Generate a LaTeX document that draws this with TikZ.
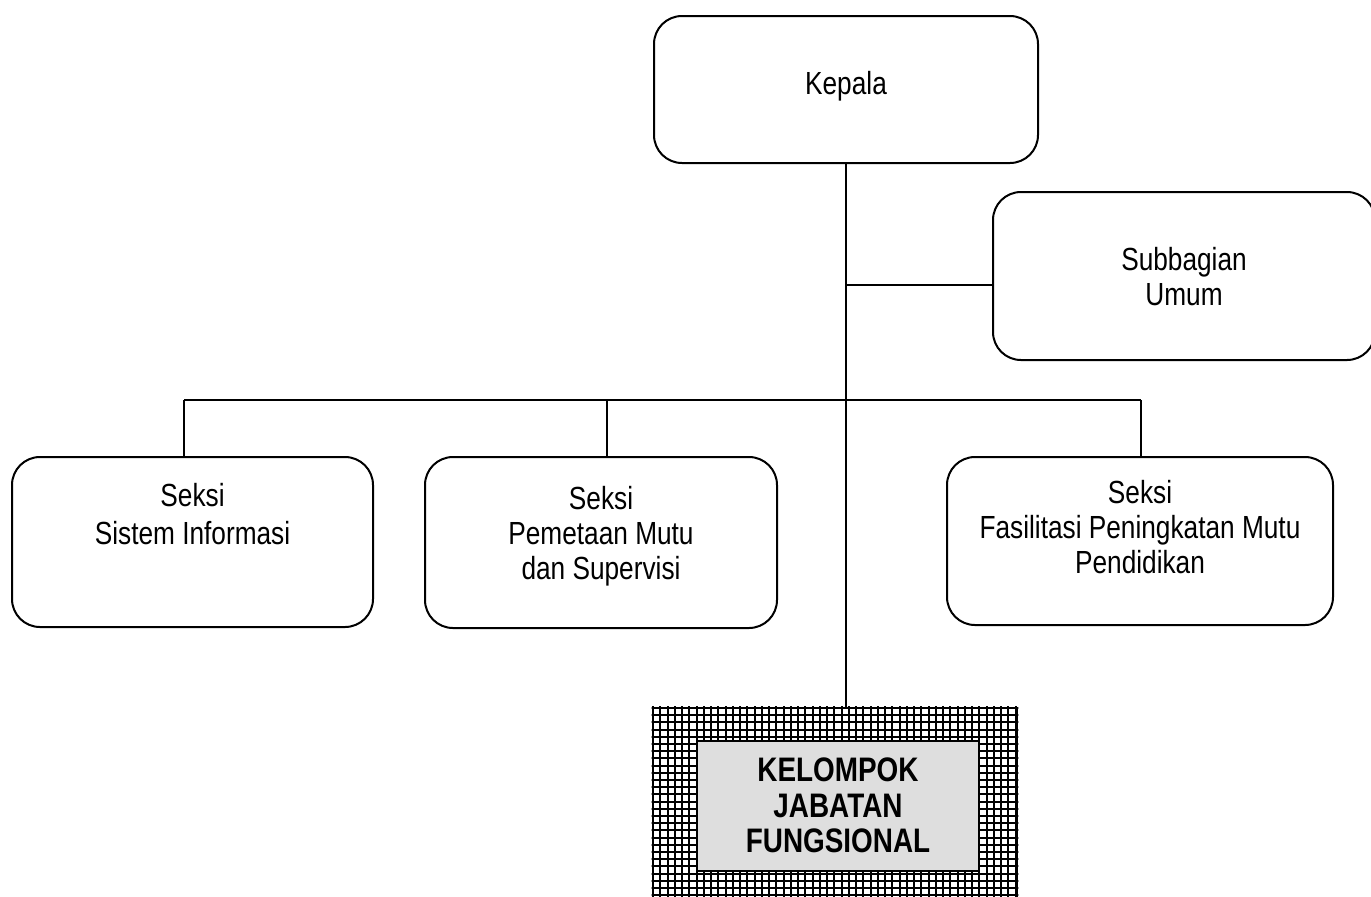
\documentclass[tikz,border=0pt]{standalone}
\usepackage{fontspec}
\setmainfont[FakeStretch=0.82]{Liberation Sans}
\begin{document}
\begin{tikzpicture}[x=0.5pt,y=-0.5pt,
  box/.style={draw, line width=1pt, rounded corners=14pt, inner sep=0pt},
  txt/.style={align=center, inner sep=0pt, font=\fontsize{16}{17.5}\selectfont},
  boldtxt/.style={align=center, inner sep=0pt, font=\fontsize{17}{17.75}\selectfont\bfseries},
  conn/.style={line width=1pt},
  gridline/.style={line width=1pt, black},
  hatchbox/.style={draw, line width=1.3pt, inner sep=0pt},
  greybox/.style={draw, line width=1pt, fill=black!13, inner sep=0pt}]
\fill[white] (0,0) rectangle (1371,896);
\clip (0,0) rectangle (1371,896);

% boxes
\node[box, minimum width=192pt, minimum height=73.5pt] (kepala) at (846,89.5) {};
\node[box, minimum width=191pt, minimum height=84pt] (sub) at (1184,276) {};
\node[box, minimum width=180.5pt, minimum height=85pt] (s1) at (192.5,542) {};
\node[box, minimum width=176pt, minimum height=85.5pt] (s2) at (601,542.5) {};
\node[box, minimum width=193pt, minimum height=84pt] (s3) at (1140,541) {};
\node[hatchbox, minimum width=182pt, minimum height=98.5pt] (hatch) at (835,806.5) {};

% texts
\node[txt] (tk) at (846,86) {Kepala};
\node[txt] (tsub) at (1184,277) {Subbagian\\Umum};
\node[txt, font=\fontsize{16}{19}\selectfont] (ts1) at (192.5,514) {Seksi\\Sistem Informasi};
\node[txt] (ts2) at (601,536) {Seksi\\Pemetaan Mutu\\dan Supervisi};
\node[txt] (ts3) at (1140,527) {Seksi\\Fasilitasi Peningkatan Mutu\\Pendidikan};

% hatched grid
\begin{scope}
  \clip (hatch.north west) rectangle (hatch.south east);
  \foreach \i in {0,...,52} \draw[gridline] (653+\i*7.25,700) -- (653+\i*7.25,910);
  \foreach \j in {0,...,29} \draw[gridline] (640,708+\j*7.2) -- (1030,708+\j*7.2);
\end{scope}
\node[hatchbox, minimum width=182pt, minimum height=98.5pt] (hatchb) at (835,806.5) {};
\node[greybox, minimum width=141pt, minimum height=65pt] (grey) at (838,806) {};
\node[boldtxt] (tkel) at (838,805.5) {KELOMPOK\\JABATAN\\FUNGSIONAL};

% connectors
\coordinate (j1) at ([yshift=-4.5pt]sub.west);
\coordinate (d1) at (184,400);
\coordinate (d2) at (607,400);
\coordinate (d3) at (1141,400);
\draw[conn] (kepala.south) -- (kepala.south |- hatch.north);
\draw[conn] (j1 -| kepala.south) -- (j1);
\draw[conn] (d1) -- (d3);
\draw[conn] (d1) -- (d1 |- s1.north);
\draw[conn] (d2) -- (d2 |- s2.north);
\draw[conn] (d3) -- (d3 |- s3.north);
\end{tikzpicture}
\end{document}
